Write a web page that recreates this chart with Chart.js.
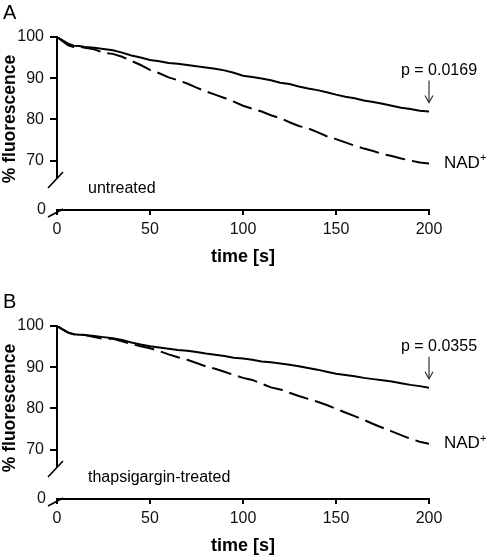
<!DOCTYPE html>
<html>
<head>
<meta charset="utf-8">
<script src="https://cdn.jsdelivr.net/npm/chart.js@4"></script>
<style>
body { margin: 0; background: #fff; }
canvas { display: block; }
</style>
</head>
<body>
<canvas id="chartA" width="488" height="289"></canvas>
<canvas id="chartB" width="488" height="269"></canvas>
<script>
// time points [s]
const times = [0, 3, 6, 9, 12, 15, 20, 25, 30, 35, 40, 45, 50, 55, 60, 65, 70, 75, 80, 85, 90,
    95, 100, 105, 110, 115, 120, 125, 130, 135, 140, 145, 150, 155, 160, 165, 170, 175, 180, 185, 190, 195, 200];

// panel A, untreated
const untreatedCtrl = [100, 99.2, 98.4, 97.9, 97.8, 97.6, 97.4, 97.1, 96.8, 96.2, 95.5, 95.0, 94.4, 94.1, 93.7, 93.5, 93.2, 92.9, 92.6, 92.3, 91.9,
    91.3, 90.6, 90.3, 89.9, 89.5, 88.9, 88.6, 88.0, 87.5, 87.1, 86.6, 86.0, 85.5, 85.1, 84.6, 84.2, 83.8, 83.3, 82.8, 82.5, 82.1, 81.9];
const untreatedNad = [100, 99.0, 98.0, 97.6, 97.6, 97.4, 97.0, 96.2, 95.9, 95.2, 94.2, 93.2, 92.0, 91.2, 90.2, 89.5, 88.7, 87.7, 86.8, 86.0, 85.2,
    84.3, 83.3, 82.6, 81.9, 81.0, 80.3, 79.3, 78.4, 77.8, 76.9, 75.9, 75.2, 74.4, 73.6, 72.9, 72.3, 71.6, 71.1, 70.5, 70.0, 69.5, 69.3];

// panel B, thapsigargin-treated
const thapsCtrl = [100, 99.2, 98.4, 98.0, 97.9, 97.8, 97.6, 97.3, 97.0, 96.6, 96.0, 95.5, 95.1, 94.8, 94.5, 94.2, 94.0, 93.7, 93.3, 93.0, 92.7,
    92.3, 92.1, 91.8, 91.4, 91.2, 90.9, 90.6, 90.2, 89.8, 89.4, 88.9, 88.4, 88.1, 87.8, 87.4, 87.1, 86.8, 86.5, 86.1, 85.7, 85.4, 85.0];
const thapsNad = [100, 99.2, 98.4, 98.0, 97.9, 97.8, 97.3, 96.9, 96.9, 96.3, 95.6, 95.1, 94.6, 93.9, 93.1, 92.4, 91.8, 91.0, 90.2, 89.6, 88.9,
    88.1, 87.4, 86.9, 86.0, 85.1, 84.6, 83.8, 83.0, 82.3, 81.6, 80.8, 79.9, 79.0, 78.1, 77.2, 76.2, 75.3, 74.4, 73.5, 72.6, 71.9, 71.4];

const xTicks = [0, 50, 100, 150, 200];
const yTicks = [70, 80, 90, 100];
const panelLetters = ['A', 'B'];
const conditions = ['untreated', 'thapsigargin-treated'];
const pValues = ['p = 0.0169', 'p = 0.0355'];
const nadLabel = 'NAD';

const FONT = "'Liberation Sans', Arial, sans-serif";

function pairs(ys) {
    return times.map((t, i) => ({x: t, y: ys[i]}));
}

function line(ctx, x1, y1, x2, y2) {
    ctx.beginPath();
    ctx.moveTo(x1, y1);
    ctx.lineTo(x2, y2);
    ctx.stroke();
}

// break marks, labels, p-value arrow
const decor = {
    id: 'decor',
    afterDraw(chart, args, opts) {
        const ctx = chart.ctx;
        const area = chart.chartArea;
        const xs = chart.scales.x;
        const ys = chart.scales.y;
        ctx.save();
        ctx.strokeStyle = '#000';
        ctx.lineWidth = 1.6;
        line(ctx, area.left - 9, ys.bottom + 11, area.left + 6, ys.bottom - 5);
        line(ctx, area.left - 9, area.bottom + 7, area.left + 6, area.bottom - 1);

        ctx.fillStyle = '#000';
        ctx.textBaseline = 'middle';
        ctx.textAlign = 'left';
        ctx.font = '20px ' + FONT;
        ctx.fillText(opts.letter, 3, 13);

        ctx.font = '16px ' + FONT;
        ctx.fillText(opts.condition, area.left + 31, ys.bottom + 12);

        const ds = chart.data.datasets;
        const px = xs.getPixelForValue(200);
        const pyCtrl = ys.getPixelForValue(ds[0].data[ds[0].data.length - 1].y);
        const pyNad = ys.getPixelForValue(ds[1].data[ds[1].data.length - 1].y);

        ctx.textAlign = 'center';
        ctx.fillText(opts.p, px + 10, pyCtrl - 41);
        ctx.strokeStyle = '#333';
        ctx.lineWidth = 1.2;
        line(ctx, px, pyCtrl - 31, px, pyCtrl - 9);
        ctx.beginPath();
        ctx.moveTo(px - 4, pyCtrl - 16);
        ctx.lineTo(px, pyCtrl - 9);
        ctx.lineTo(px + 4, pyCtrl - 16);
        ctx.stroke();

        ctx.textAlign = 'left';
        ctx.font = '17px ' + FONT;
        ctx.fillText(nadLabel, px + 15, pyNad);
        const w = ctx.measureText(nadLabel).width;
        ctx.font = '11px ' + FONT;
        ctx.fillText('+', px + 15 + w, pyNad - 5);

        ctx.save();
        ctx.translate(10, 119);
        ctx.rotate(-Math.PI / 2);
        ctx.textAlign = 'center';
        ctx.font = 'bold 17.5px ' + FONT;
        ctx.fillText('% fluorescence', 0, 0);
        ctx.restore();
        ctx.restore();
    }
};

function makeChart(id, idx, ctrl, nad, padBottom) {
    const tickFont = {family: FONT, size: 16};
    return new Chart(document.getElementById(id), {
        type: 'line',
        data: {
            datasets: [{
                label: 'control',
                data: pairs(ctrl),
                yAxisID: 'y',
                borderColor: '#000',
                borderWidth: 2,
                pointRadius: 0,
                tension: 0
            }, {
                label: 'NAD+',
                data: pairs(nad),
                yAxisID: 'y',
                borderColor: '#000',
                borderWidth: 2,
                borderDash: [20, 7],
                pointRadius: 0,
                tension: 0
            }]
        },
        options: {
            responsive: false,
            animation: false,
            layout: {padding: {left: 0, right: 59, top: 37, bottom: padBottom}},
            plugins: {
                legend: {display: false},
                tooltip: {enabled: false},
                decor: {letter: panelLetters[idx], condition: conditions[idx], p: pValues[idx]}
            },
            scales: {
                x: {
                    type: 'linear',
                    min: 0,
                    max: 200,
                    afterBuildTicks: s => { s.ticks = xTicks.map(v => ({value: v})); },
                    afterFit: s => { s.height = 58; },
                    grid: {drawOnChartArea: false, tickLength: 5, color: '#000', lineWidth: 2},
                    border: {color: '#000', width: 2},
                    ticks: {font: tickFont, color: '#111', padding: 5, maxRotation: 0},
                    title: {display: true, text: 'time [s]', color: '#000',
                        font: {family: FONT, size: 18, weight: 'bold'}, padding: {top: 6, bottom: 0}}
                },
                y0: {
                    type: 'linear',
                    position: 'left',
                    stack: 'fl',
                    stackWeight: 33,
                    weight: 0,
                    min: 0,
                    max: 10,
                    afterBuildTicks: s => { s.ticks = [{value: 0}]; },
                    afterFit: s => { s.width = 57; },
                    grid: {display: false, tickLength: 8},
                    border: {display: false},
                    ticks: {font: tickFont, color: '#111', padding: 3}
                },
                y: {
                    type: 'linear',
                    position: 'left',
                    stack: 'fl',
                    stackWeight: 140,
                    weight: 1,
                    min: 66,
                    max: 100,
                    afterBuildTicks: s => { s.ticks = yTicks.map(v => ({value: v})); },
                    afterFit: s => { s.width = 57; },
                    grid: {drawOnChartArea: false, tickLength: 7, color: '#000', lineWidth: 2},
                    border: {color: '#000', width: 2},
                    ticks: {font: tickFont, color: '#111', padding: 6}
                }
            }
        },
        plugins: [decor]
    });
}

makeChart('chartA', 0, untreatedCtrl, untreatedNad, 21);
makeChart('chartB', 1, thapsCtrl, thapsNad, 1);
</script>
</body>
</html>
